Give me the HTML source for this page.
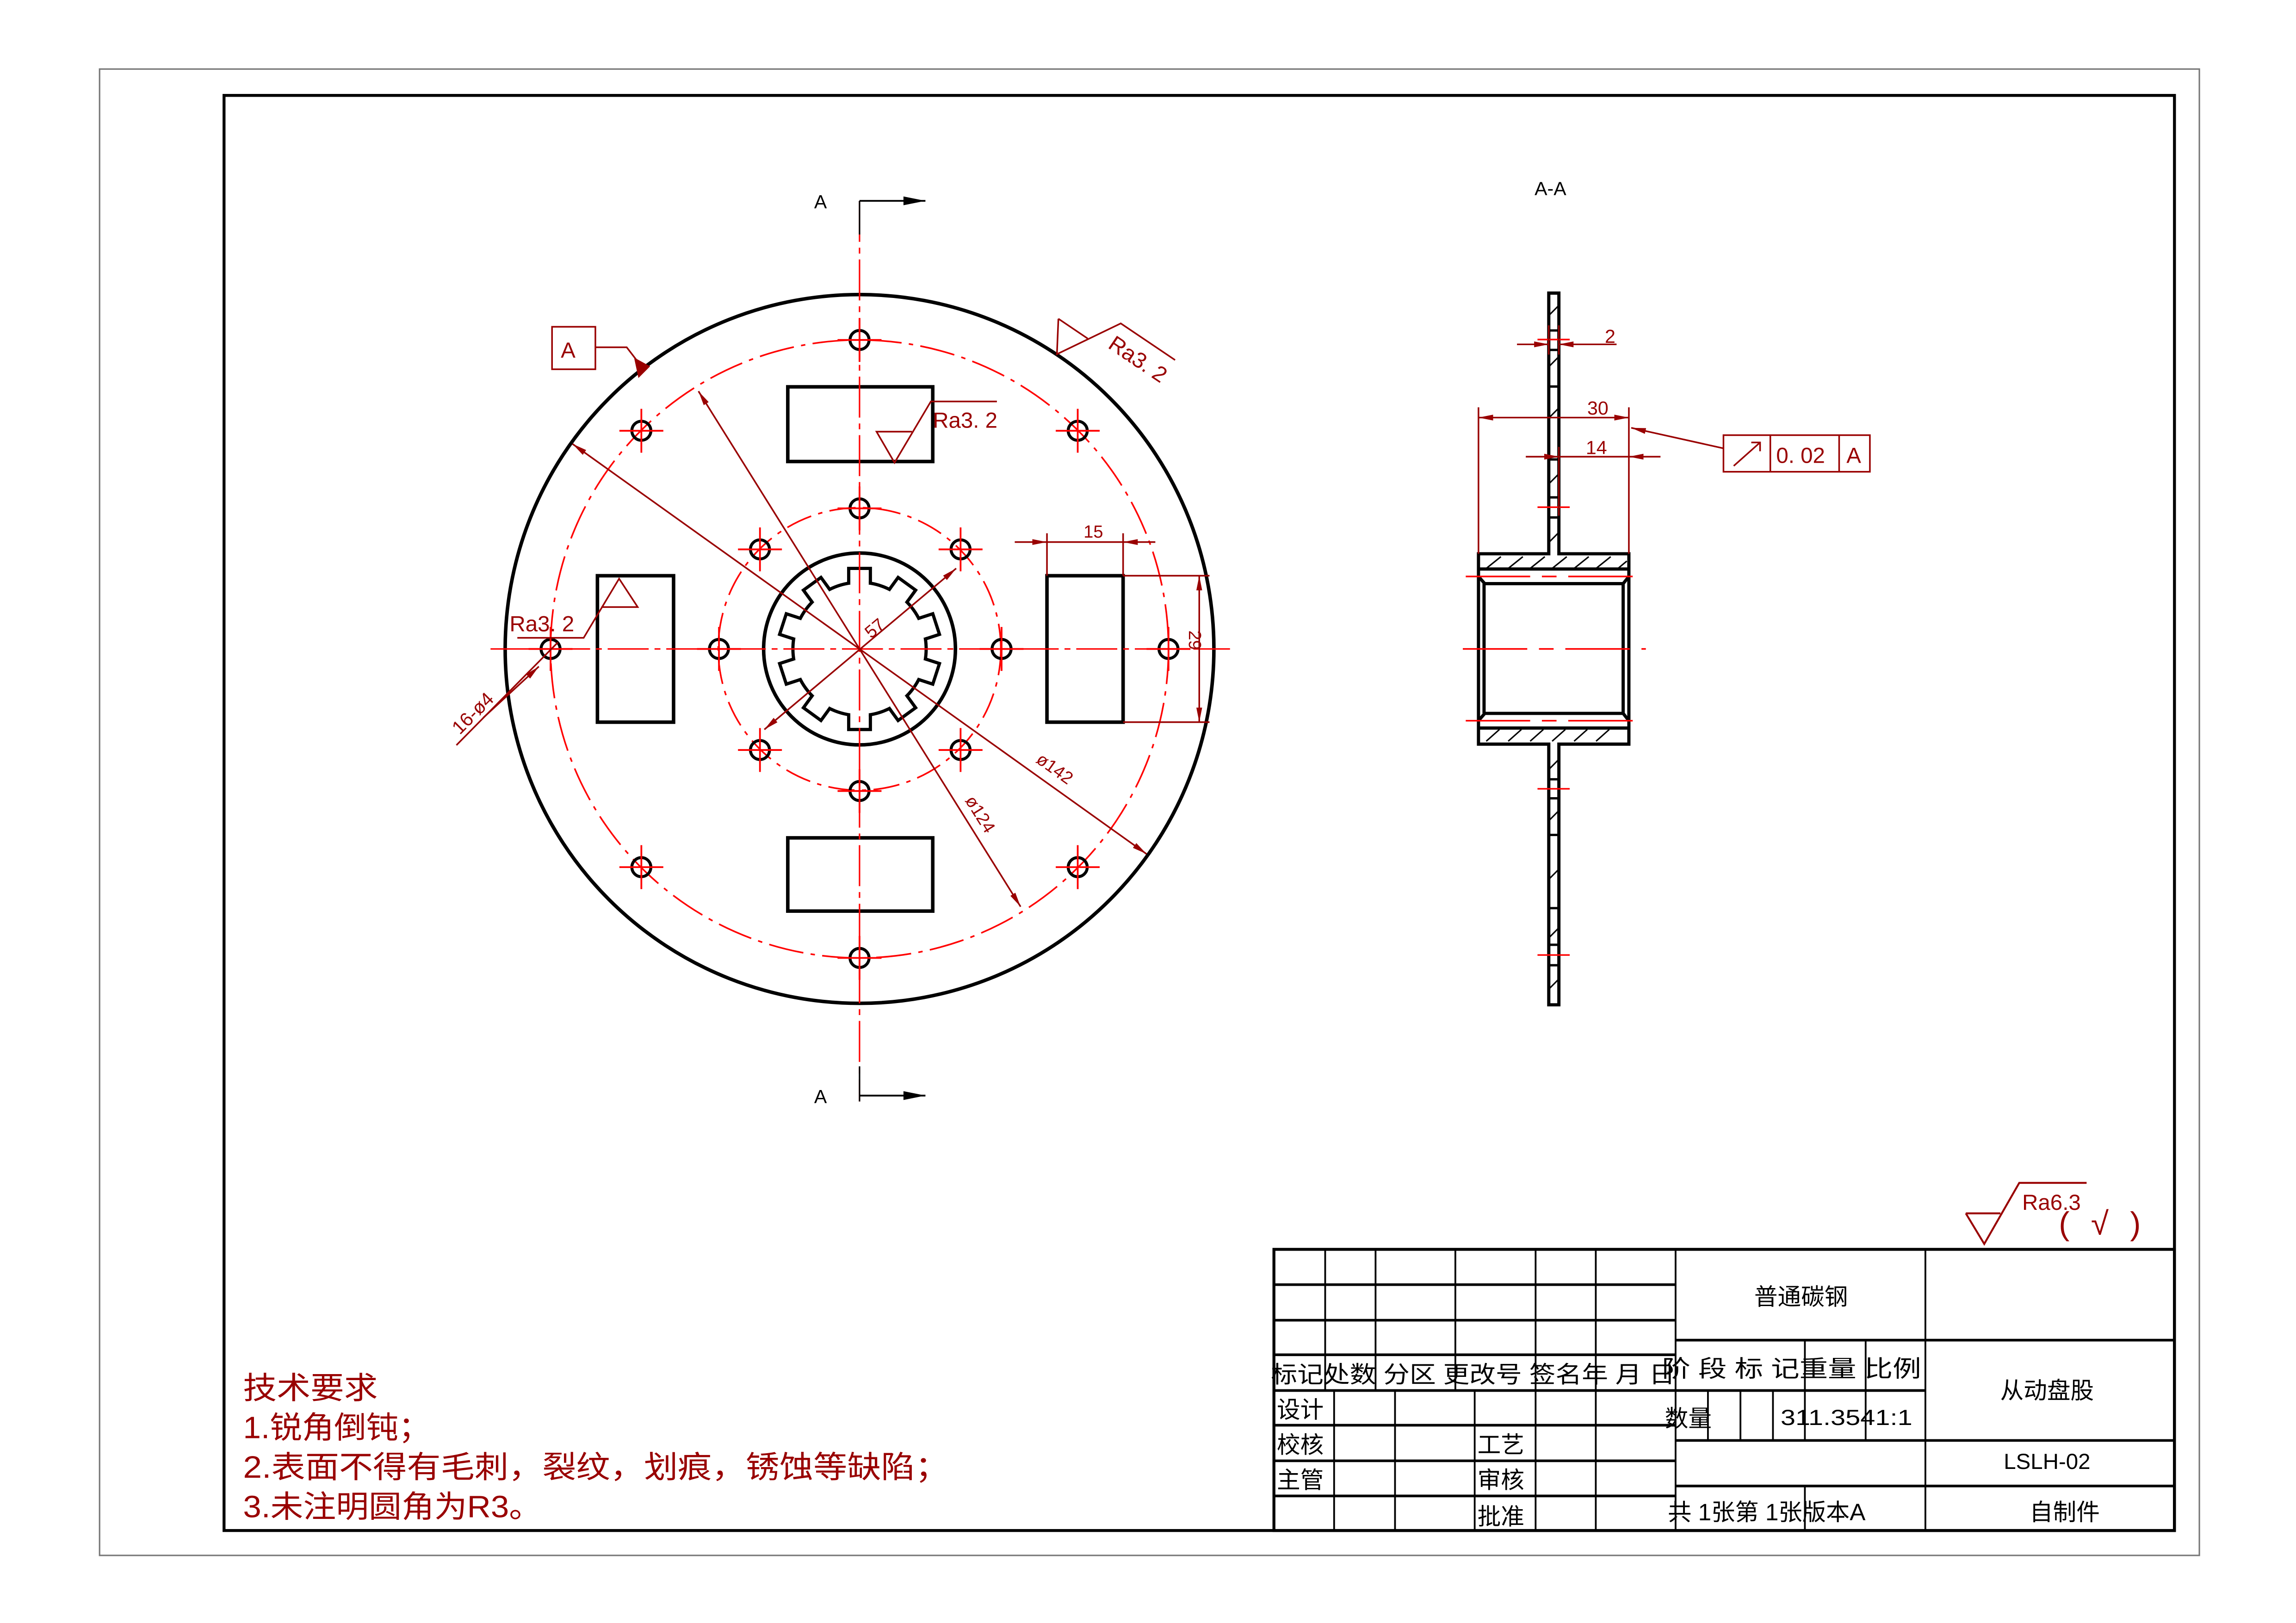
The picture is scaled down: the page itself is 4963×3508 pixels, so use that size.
<!DOCTYPE html>
<html><head><meta charset="utf-8"><style>
html,body{margin:0;padding:0;background:#fff;}
svg{display:block;}
text{font-family:"Liberation Sans","Noto Sans CJK SC",sans-serif;}
</style></head><body>
<svg width="4963" height="3508" viewBox="0 0 1568 1108" xmlns="http://www.w3.org/2000/svg">
<defs>
<marker id="ar" viewBox="0 0 10 4" refX="10" refY="2" markerWidth="10" markerHeight="4" markerUnits="userSpaceOnUse" orient="auto"><path d="M0,0 L10,2 L0,4 Z" fill="#990000"/></marker>
<marker id="as" viewBox="0 0 10 4" refX="0" refY="2" markerWidth="10" markerHeight="4" markerUnits="userSpaceOnUse" orient="auto"><path d="M10,0 L0,2 L10,4 Z" fill="#990000"/></marker>
<marker id="ak" viewBox="0 0 10 4" refX="10" refY="2" markerWidth="20" markerHeight="6" markerUnits="userSpaceOnUse" orient="auto"><path d="M0,0 L10,2 L0,4 Z" fill="#000"/></marker>
<g id="tooth">
<rect x="-6.3" y="-55" width="12.6" height="11" fill="#fff"/>
<path d="M-7.4,-44.9 L-7.4,-55 L7.4,-55 L7.4,-44.9" fill="none" stroke="#000" stroke-width="2.2"/>
</g>
<g id="hole"><circle r="6.5" fill="none" stroke="#000" stroke-width="2"/><path d="M-15,0 H15 M0,-15 V15" stroke="#ff0000" stroke-width="1.2"/></g>
</defs>

<rect x="68" y="47" width="1434" height="1015" fill="none" stroke="#777" stroke-width="1"/>
<rect x="153" y="65" width="1332" height="980" fill="none" stroke="#000" stroke-width="2"/>

<circle cx="587" cy="443" r="242" fill="none" stroke="#000" stroke-width="2.4"/>
<circle cx="587" cy="443" r="211" fill="none" stroke="#ff0000" stroke-width="1.1" stroke-dasharray="24 5 3 5"/>
<circle cx="587" cy="443" r="96.5" fill="none" stroke="#ff0000" stroke-width="1.1" stroke-dasharray="18 5 3 5"/>
<circle cx="587" cy="443" r="65.5" fill="none" stroke="#000" stroke-width="2.4"/>
<circle cx="587" cy="443" r="45.5" fill="none" stroke="#000" stroke-width="2.2"/>
<g transform="translate(587,443)">
<use href="#tooth" transform="rotate(0)"/><use href="#tooth" transform="rotate(36)"/><use href="#tooth" transform="rotate(72)"/><use href="#tooth" transform="rotate(108)"/><use href="#tooth" transform="rotate(144)"/><use href="#tooth" transform="rotate(180)"/><use href="#tooth" transform="rotate(216)"/><use href="#tooth" transform="rotate(252)"/><use href="#tooth" transform="rotate(288)"/><use href="#tooth" transform="rotate(324)"/>
</g>
<g fill="none" stroke="#000" stroke-width="2.4">
<rect x="538" y="264" width="99" height="51"/>
<rect x="538" y="572" width="99" height="50"/>
<rect x="408" y="393" width="52" height="100"/>
<rect x="715" y="393" width="52" height="100"/>
</g>
<path d="M587,137 V752 M335,443 H840" stroke="#ff0000" stroke-width="1" stroke-dasharray="28 4 4 4"/>
<path d="M587,137 V160 M587,728 V752" stroke="#000" stroke-width="1"/>
<use href="#hole" x="587" y="232"/><use href="#hole" x="587" y="654"/><use href="#hole" x="376" y="443"/><use href="#hole" x="798" y="443"/>
<use href="#hole" x="438" y="294"/><use href="#hole" x="736" y="294"/><use href="#hole" x="438" y="592"/><use href="#hole" x="736" y="592"/>
<use href="#hole" x="587" y="347"/><use href="#hole" x="587" y="540"/><use href="#hole" x="491" y="443"/><use href="#hole" x="684" y="443"/>
<use href="#hole" x="519" y="375"/><use href="#hole" x="656" y="375"/><use href="#hole" x="519" y="512"/><use href="#hole" x="656" y="512"/>

<text x="556" y="142" font-size="13">A</text>
<text x="556" y="753" font-size="13">A</text>
<line x1="587" y1="137" x2="632" y2="137" stroke="#000" stroke-width="1.2" marker-end="url(#ak)"/>
<line x1="587" y1="748" x2="632" y2="748" stroke="#000" stroke-width="1.2" marker-end="url(#ak)"/>

<g stroke="#990000" stroke-width="1.1" fill="none">
<line x1="391" y1="303" x2="783" y2="583" marker-start="url(#as)" marker-end="url(#ar)"/>
<line x1="477" y1="267" x2="697" y2="619" marker-start="url(#as)" marker-end="url(#ar)"/>
<line x1="653" y1="388" x2="522" y2="498" marker-start="url(#as)" marker-end="url(#ar)"/>
<line x1="311.7" y1="508.7" x2="381" y2="438.5"/>
<line x1="330" y1="490" x2="368" y2="455" marker-end="url(#ar)"/>
<path d="M715,364 V393 M767,364 V393"/>
<line x1="693" y1="370" x2="715" y2="370" marker-end="url(#ar)"/>
<line x1="789" y1="370" x2="767" y2="370" marker-end="url(#ar)"/>
<line x1="715" y1="370" x2="767" y2="370"/>
<path d="M767,393 H826 M767,493 H826"/>
<line x1="819" y1="393" x2="819" y2="493" marker-start="url(#as)" marker-end="url(#ar)"/>
<rect x="377" y="223" width="29.6" height="29"/>
<path d="M406.6,237 H428 L438,250"/>
<path d="M722.8,217.5 L742.8,231 M722.8,217.5 L721.8,241.7 L765.4,220.7 L802.5,245.7"/>
<path d="M680.8,274 H635.7 L610.9,315.8 L598.6,294.6 H622.8"/>
<path d="M353.3,435.4 H398.6 L422.8,395 L435.5,414.4 H410.7"/>
</g>
<path d="M433,244 L444,250 L436,258 Z" fill="#990000"/>
<g fill="#990000">
<text x="383" y="244" font-size="15">A</text>
<text x="740" y="367" font-size="12">15</text>
<text transform="translate(812,437) rotate(90)" font-size="12" text-anchor="middle">29</text>
<text transform="translate(718,528) rotate(35.5)" font-size="12" text-anchor="middle">ø142</text>
<text transform="translate(666,558) rotate(58)" font-size="12" text-anchor="middle">ø124</text>
<text transform="translate(600,432) rotate(-40)" font-size="12" text-anchor="middle">57</text>
<text transform="translate(326,490) rotate(-45)" font-size="13" text-anchor="middle">16-ø4</text>
<text x="348" y="431" font-size="15">Ra3. 2</text>
<text x="637" y="292" font-size="15">Ra3. 2</text>
<text transform="translate(756,237) rotate(34)" font-size="15">Ra3. 2</text>
</g>

<text x="1048" y="133" font-size="13">A-A</text>
<g stroke="#000" stroke-width="1">
<path d="M1058,215 L1064,209 M1058,250 L1064,244 M1058,285 L1064,279 M1058,330 L1064,324 M1058,370 L1064,364 M1058,525 L1064,519 M1058,560 L1064,554 M1058,600 L1064,594 M1058,640 L1064,634 M1058,675 L1064,669"/>
<path d="M1015,388 L1025,380 M1030,388 L1040,380 M1045,388 L1055,380 M1060,388 L1070,380 M1075,388 L1085,380 M1090,388 L1100,380 M1105,388 L1111,383"/>
<path d="M1015,506 L1024,498 M1030,506 L1039,498 M1045,506 L1054,498 M1060,506 L1069,498 M1075,506 L1084,498 M1090,506 L1099,498"/>
</g>
<g stroke="#000" stroke-width="2.2" fill="none">
<path d="M1057.7,378 V200 H1064.6 V378 H1112.4 V508 H1064.6 V686 H1057.7 V508 H1009.7 V378 Z"/>
<path d="M1009.7,388.4 H1112.4 M1009.7,497 H1112.4"/>
<path d="M1009.7,393.5 L1014,398.4 H1108.5 L1112.4,393.5 M1009.7,492 L1014,487 H1108.5 L1112.4,492"/>
<path d="M1013.5,398.4 V487 M1108.5,398.4 V487"/>
</g>
<g stroke="#000" stroke-width="1.6">
<path d="M1057.7,225.5 H1064.6 M1057.7,238.8 H1064.6 M1057.7,263.8 H1064.6 M1057.7,313.6 H1064.6 M1057.7,339.5 H1064.6 M1057.7,353.2 H1064.6"/>
<path d="M1057.7,532 H1064.6 M1057.7,545 H1064.6 M1057.7,570 H1064.6 M1057.7,620 H1064.6 M1057.7,645 H1064.6 M1057.7,659 H1064.6"/>
</g>
<g stroke="#ff0000" stroke-width="1.1">
<path d="M1050,231.7 H1072 M1050,346.2 H1072 M1050,538.5 H1072 M1050,652 H1072"/>
<path d="M1001,393.5 H1122 M1001,492 H1122 M999,443 H1124" stroke-dasharray="44 8 10 8"/>
</g>
<g stroke="#990000" stroke-width="1.1" fill="none">
<path d="M1057.7,222 V242 M1064.6,222 V242"/>
<line x1="1036" y1="235" x2="1057.7" y2="235" marker-end="url(#ar)"/>
<line x1="1104" y1="235" x2="1064.6" y2="235" marker-end="url(#ar)"/>
<path d="M1009.7,278 V378 M1112.4,278 V378"/>
<line x1="1009.7" y1="285" x2="1112.4" y2="285" marker-start="url(#as)" marker-end="url(#ar)"/>
<path d="M1064.6,305 V352"/>
<line x1="1042" y1="311.7" x2="1064.6" y2="311.7" marker-end="url(#ar)"/>
<line x1="1134" y1="311.7" x2="1112.4" y2="311.7" marker-end="url(#ar)"/>
<line x1="1064.6" y1="311.7" x2="1112.4" y2="311.7"/>
<line x1="1177" y1="306" x2="1114" y2="292" marker-end="url(#ar)"/>
<rect x="1177" y="297" width="100" height="25"/>
<path d="M1209,297 V322 M1256,297 V322 M1184,318 L1202,302 M1196,302 H1202 V308"/>
</g>
<g fill="#990000">
<text x="1096" y="234" font-size="13">2</text>
<text x="1084" y="283" font-size="13">30</text>
<text x="1083" y="310" font-size="13">14</text>
<text x="1213" y="316" font-size="15">0. 02</text>
<text x="1261" y="316" font-size="15">A</text>
</g>

<g stroke="#990000" stroke-width="1.3" fill="none">
<path d="M1342.5,828.4 H1366.1 M1342.5,828.4 L1355.1,849.3 L1379,807.6 H1425"/>
</g>
<text x="1381" y="826" font-size="15" fill="#990000">Ra6.3</text>
<text x="1406" y="843" font-size="22" fill="#990000" textLength="56" lengthAdjust="spacing">( √ )</text>

<g fill="#990000" font-size="21" font-family="'Liberation Serif','Noto Serif CJK SC',serif">
<text x="166" y="955" textLength="92" lengthAdjust="spacingAndGlyphs">技术要求</text>
<text x="166" y="982" textLength="128" lengthAdjust="spacingAndGlyphs">1.锐角倒钝；</text>
<text x="166" y="1009" textLength="482" lengthAdjust="spacingAndGlyphs">2.表面不得有毛刺，裂纹，划痕，锈蚀等缺陷；</text>
<text x="166" y="1036" textLength="204" lengthAdjust="spacingAndGlyphs">3.未注明圆角为R3。</text>
</g>

<g stroke="#000" fill="none">
<rect x="870" y="853" width="615" height="192" stroke-width="2"/>
<path stroke-width="1.8" d="M870,877.1 H1144.3 M870,901.4 H1144.3 M870,925 H1144.3 M870,949.4 H1314.9 M870,973.1 H1144.3 M870,997.4 H1144.3 M870,1021.4 H1144.3 M1144.3,915 H1485 M1144.3,983.5 H1485 M1144.3,1014.6 H1485"/>
<path stroke-width="1.2" d="M905,853 V949.4 M939.4,853 V949.4 M993.9,853 V949.4 M1048.7,853 V1045 M1089.8,853 V1045 M1144.3,853 V1045 M1314.9,853 V1045"/>
<path stroke-width="1.2" d="M911.1,949.4 V1045 M952.7,949.4 V1045 M1007.1,949.4 V1045"/>
<path stroke-width="1.2" d="M1232.6,915 V983.5 M1274.1,915 V983.5 M1166.4,949.4 V983.5 M1188.6,949.4 V983.5 M1210.8,949.4 V983.5 M1232.6,1014.6 V1045"/>
</g>
<g font-size="16" fill="#000">
<text x="1230" y="891" text-anchor="middle">普通碳钢</text>
<text x="1398" y="955" text-anchor="middle">从动盘股</text>
<text x="1398" y="1003" text-anchor="middle" font-size="15">LSLH-02</text>
<text x="1410" y="1038" text-anchor="middle">自制件</text>
<text x="868" y="944" textLength="276" lengthAdjust="spacingAndGlyphs">标记处数 分区 更改号 签名年 月 日</text>
<text x="1135" y="940" textLength="177" lengthAdjust="spacingAndGlyphs">阶 段 标 记重量 比例</text>
<text x="1137" y="974">数量</text>
<text x="1216" y="973" font-size="15" textLength="90" lengthAdjust="spacingAndGlyphs">311.3541:1</text>
<text x="872" y="968">设计</text>
<text x="872" y="992">校核</text>
<text x="872" y="1016">主管</text>
<text x="1009" y="992">工艺</text>
<text x="1009" y="1016">审核</text>
<text x="1009" y="1041">批准</text>
<text x="1139" y="1038" textLength="135" lengthAdjust="spacingAndGlyphs">共 1张第 1张版本A</text>
</g>
</svg>
</body></html>
